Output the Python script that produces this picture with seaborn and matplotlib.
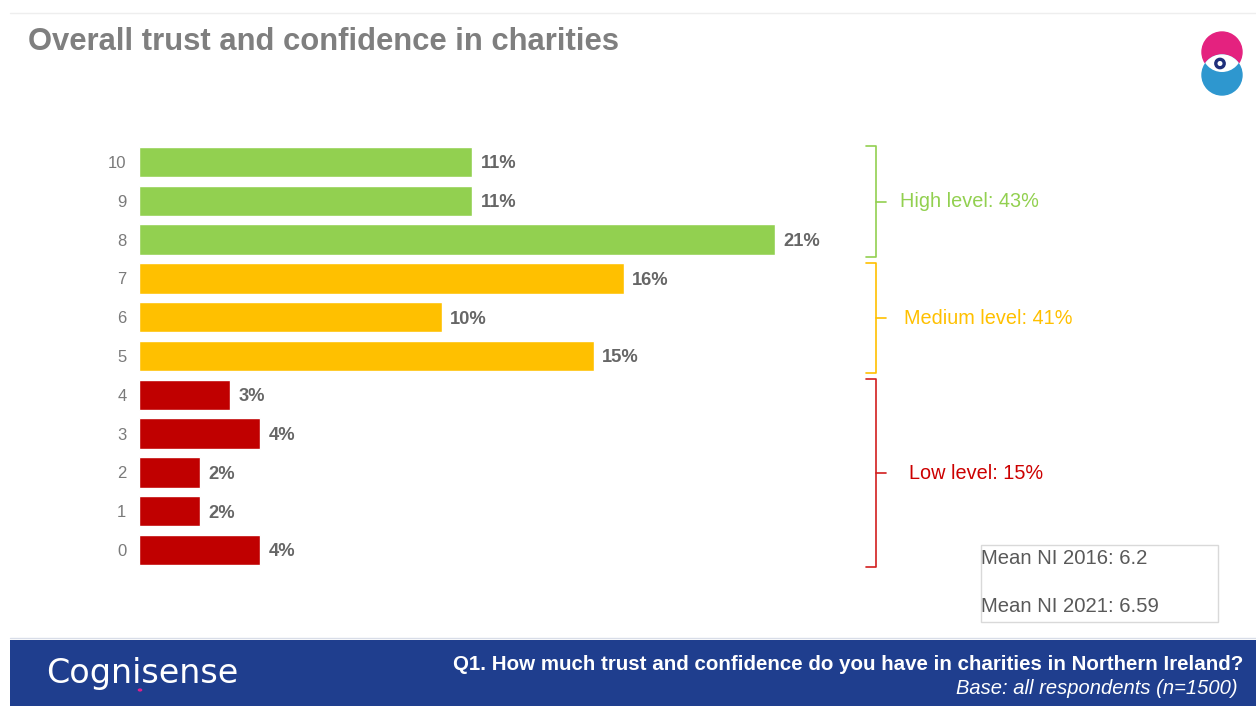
import matplotlib
matplotlib.use("Agg")
import matplotlib.pyplot as plt
from matplotlib.patches import Circle, Rectangle
import numpy as np
import pandas as pd
import seaborn as sns

# ---- data -------------------------------------------------------------
scores = ["10", "9", "8", "7", "6", "5", "4", "3", "2", "1", "0"]
percentages = [11, 11, 21, 16, 10, 15, 3, 4, 2, 2, 4]
levels = ["High", "High", "High", "Medium", "Medium", "Medium",
          "Low", "Low", "Low", "Low", "Low"]
level_names = ["High", "Medium", "Low"]
level_colors = {"High": "#92D050", "Medium": "#FFC000", "Low": "#C00000"}
bracket_colors = {"High": "#92D050", "Medium": "#FFC000", "Low": "#D21F1F"}
level_text_colors = {"High": "#92D050", "Medium": "#FFC000", "Low": "#CC0000"}
mean_labels = ["Mean NI 2016: 6.2", "Mean NI 2021: 6.59"]
title = "Overall trust and confidence in charities"
question = "Q1. How much trust and confidence do you have in charities in Northern Ireland?"
base_note = "Base: all respondents (n=1500)"
brand = "Cognisense"

df = pd.DataFrame({"score": scores, "pct": percentages, "level": levels})

# ---- figure -----------------------------------------------------------
W, H = 1256, 706
sns.set_theme(style="white")
plt.rcParams["font.family"] = ["Liberation Sans", "DejaVu Sans"]
fig = plt.figure(figsize=(W / 100, H / 100), dpi=100)
fig.patch.set_facecolor("white")


def fx(px):
    return px / W


def fy(py):
    return 1 - py / H


# main bar axes: spans from the bar baseline to the right edge
px_per_pct = 30.3
ax_left, ax_top, ax_bottom = 139, 142.6, 569.4
ax = fig.add_axes([fx(ax_left), fy(ax_bottom), 1 - fx(ax_left),
                   (ax_bottom - ax_top) / H])
sns.barplot(data=df, y="score", x="pct", hue="level", order=scores,
            hue_order=level_names, palette=level_colors, dodge=False,
            width=0.78, legend=False, ax=ax, saturation=1)
ax.set_xlim(0, (W - ax_left) / px_per_pct)
ax.set_ylim(len(scores) - 0.5, -0.5)
ax.set_xlabel("")
ax.set_ylabel("")
ax.set_xticks([])
for s in ax.spines.values():
    s.set_visible(False)
ax.tick_params(axis="y", length=0, pad=9, labelsize=12, labelcolor="#7a7a7a")
ax.patch.set_alpha(0)

for cont in ax.containers:
    texts = ax.bar_label(cont, labels=[f"{v:.0f}%" if v > 0 else "" for v in cont.datavalues],
                         padding=6, fontsize=13.2, fontweight="bold", color="#666666")
    for t in texts:
        t.set_va("center_baseline")

# level brackets with totals
pos = {s: i for i, s in enumerate(scores)}
bx = (876 - ax_left) / px_per_pct
cap = 10 / px_per_pct
tick = 10 / px_per_pct
text_gap = {"High": 14, "Medium": 18, "Low": 23}
for lvl in level_names:
    rows = [pos[s] for s, l in zip(scores, levels) if l == lvl]
    total = sum(p for p, l in zip(percentages, levels) if l == lvl)
    y0, y1 = min(rows) - 0.4, max(rows) + 0.45
    ym = (y0 + y1) / 2
    c = bracket_colors[lvl]
    ax.plot([bx - cap, bx, bx, bx - cap], [y0, y0, y1, y1], color=c, lw=1.2,
            solid_joinstyle="round", clip_on=False)
    ax.plot([bx, bx + tick], [ym, ym], color=c, lw=1.2, clip_on=False)
    ax.text(bx + tick + text_gap[lvl] / px_per_pct, ym, f"{lvl} level: {total}%",
            color=level_text_colors[lvl], fontsize=14.3, va="center", ha="left")

# ---- title and decorations -------------------------------------------
fig.add_artist(plt.Line2D([fx(10), fx(W)], [fy(13), fy(13)], color="#eeeeee", lw=1))
fig.text(fx(28), fy(42), title, fontsize=22.3, fontweight="bold", color="#7f7f7f",
         ha="left", va="center")

# mean box
fig.add_artist(Rectangle((fx(981), fy(622)), fx(1218) - fx(981), fy(545) - fy(622),
                         transform=fig.transFigure, facecolor="white",
                         edgecolor="#d9d9d9", lw=1))
fig.text(fx(981), fy(558), mean_labels[0], fontsize=14.6, color="#595959",
         ha="left", va="center")
fig.text(fx(981), fy(606), mean_labels[1], fontsize=14.6, color="#595959",
         ha="left", va="center")

# footer band
fig.add_artist(Rectangle((fx(10), 0), 1 - fx(10), fy(640), transform=fig.transFigure,
                         facecolor="#1F3E8E", edgecolor="none"))
fig.add_artist(plt.Line2D([fx(10), 1], [fy(638), fy(638)], color="#d8dde8", lw=1))
fig.text(fx(46), fy(673), brand, fontsize=24, color="white", ha="left", va="center",
         family=["DejaVu Sans"])
fig.add_artist(Circle((fx(140), fy(690)), 1.6 / W, transform=fig.transFigure,
                      color="#E0218A"))
fig.text(fx(1243), fy(664), question, fontsize=14.8, fontweight="bold", color="white",
         ha="right", va="center")
fig.text(fx(1238), fy(689), base_note, fontsize=14.5, style="italic", color="white",
         ha="right", va="center")

# logo mark
lx0, lx1, ly0, ly1 = 1196, 1248, 28, 100
lax = fig.add_axes([fx(lx0), fy(ly1), fx(lx1) - fx(lx0), (ly1 - ly0) / H])
lax.set_xlim(lx0, lx1)
lax.set_ylim(ly1, ly0)
lax.set_aspect("equal")
lax.axis("off")
pink = Circle((1222, 52), 20, color="#E4227F")
blue = Circle((1222, 75), 20, color="#2E97CF")
lax.add_patch(pink)
lax.add_patch(blue)
lens = Circle((1222, 75), 20, color="white")
lax.add_patch(lens)
lens.set_clip_path(pink)
lax.add_patch(Circle((1220, 63.5), 4.2, facecolor="white", edgecolor="#1F2F7A", lw=2.4))

fig.savefig("out.png", dpi=100)
